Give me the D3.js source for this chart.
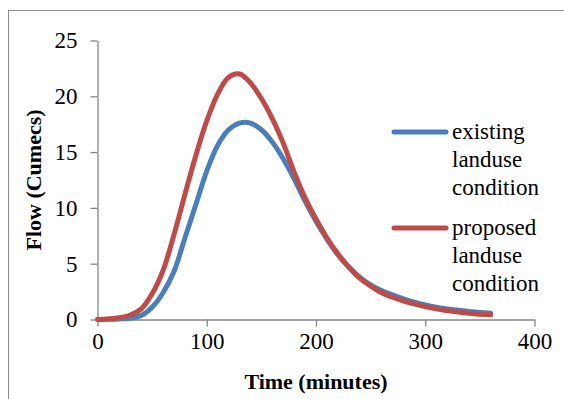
<!DOCTYPE html>
<html lang="en">
<head>
<meta charset="utf-8">
<title>Flow hydrograph</title>
<script src="https://d3js.org/d3.v7.min.js"></script>
<style>
  body { margin: 0; background: #fff; }
  svg text { font-family: 'Liberation Serif', 'Times New Roman', serif; fill: #000; }
</style>
</head>
<body>
<script>
// time in minutes
var time = [0, 10, 20, 30, 40, 50, 60, 70, 80, 90, 100, 110, 120, 130, 140, 150, 160, 170, 180,
            190, 200, 210, 220, 230, 240, 250, 260, 270, 280, 290, 300, 310, 320, 330, 340, 350, 360];

var existing = [0, 0.02, 0.05, 0.12, 0.35, 1.1, 2.4, 4.3, 7.3, 10.3, 13.3, 15.6, 17.0, 17.6, 17.6, 17.0, 15.9, 14.4, 12.6,
                10.6, 8.8, 7.2, 5.8, 4.7, 3.8, 3.1, 2.6, 2.2, 1.85, 1.55, 1.3, 1.1, 0.95, 0.82, 0.72, 0.62, 0.55];

var proposed = [0, 0.05, 0.15, 0.4, 0.95, 2.3, 4.4, 7.6, 11.2, 14.7, 17.8, 20.2, 21.7, 22.0, 21.2, 19.8, 18.0, 15.8, 13.2,
                10.9, 9.0, 7.3, 5.9, 4.7, 3.7, 3.0, 2.4, 2.0, 1.65, 1.4, 1.15, 0.95, 0.8, 0.67, 0.56, 0.48, 0.42];

var xTicks = [0, 100, 200, 300, 400];
var yTicks = [0, 5, 10, 15, 20, 25];

var series = [
  {name: ["existing", "landuse", "condition"], values: existing, color: "#4a7ebb"},
  {name: ["proposed", "landuse", "condition"], values: proposed, color: "#be4b48"}
];

var w = 564, h = 399;
var axisColor = "#868686";
var serif = "'Liberation Serif', 'Times New Roman', serif";

var svg = d3.select("body").append("svg")
    .attr("width", w)
    .attr("height", h);

// chart frame
svg.append("rect")
    .attr("x", 8.5).attr("y", 10.5)
    .attr("width", w).attr("height", h)
    .attr("fill", "none")
    .attr("stroke", "#8c8c8c")
    .attr("stroke-width", 1);

var x = d3.scaleLinear().domain([0, 400]).range([97.5, 534.5]);
var y = d3.scaleLinear().domain([0, 25]).range([319.5, 40.5]);

var xAxis = svg.append("g")
    .attr("transform", "translate(0," + y(0) + ")")
    .call(d3.axisBottom(x).tickValues(xTicks).tickSize(7).tickPadding(6).tickSizeOuter(0));

var yAxis = svg.append("g")
    .attr("transform", "translate(" + x(0) + ",0)")
    .call(d3.axisLeft(y).tickValues(yTicks).tickSize(7).tickPadding(13).tickSizeOuter(0));

[xAxis, yAxis].forEach(function(g) {
  g.attr("font-family", null).attr("font-size", null);
  g.selectAll("path, line").attr("stroke", axisColor).attr("stroke-width", 1.3);
  g.selectAll("text")
    .style("font-family", serif)
    .style("font-size", "23px")
    .attr("fill", "#000");
});
xAxis.selectAll("text").attr("dy", "0.71em");

var line = d3.line()
    .x(function(d, i) { return x(time[i]); })
    .y(function(d) { return y(d); })
    .curve(d3.curveCatmullRom.alpha(0.5));

svg.selectAll(".series")
    .data(series)
    .enter().append("path")
    .attr("class", "series")
    .attr("d", function(d) { return line(d.values); })
    .attr("fill", "none")
    .attr("stroke", function(d) { return d.color; })
    .attr("stroke-width", 5)
    .attr("stroke-linecap", "round")
    .attr("stroke-linejoin", "round");

// axis titles
svg.append("text")
    .attr("x", (x(0) + x(400)) / 2)
    .attr("y", 389)
    .attr("text-anchor", "middle")
    .style("font-family", serif)
    .style("font-size", "22px")
    .style("font-weight", "bold")
    .text("Time (minutes)");

svg.append("text")
    .attr("transform", "translate(41," + (y(0) + y(25)) / 2 + ") rotate(-90)")
    .attr("text-anchor", "middle")
    .style("font-family", serif)
    .style("font-size", "22px")
    .style("font-weight", "bold")
    .text("Flow (Cumecs)");

// legend
var legend = svg.selectAll(".legend")
    .data(series)
    .enter().append("g")
    .attr("class", "legend")
    .attr("transform", function(d, i) { return "translate(0," + (132 + i * 96) + ")"; });

legend.append("line")
    .attr("x1", 394).attr("x2", 446)
    .attr("y1", 0).attr("y2", 0)
    .attr("stroke", function(d) { return d.color; })
    .attr("stroke-width", 5)
    .attr("stroke-linecap", "round");

legend.append("text")
    .style("font-family", serif)
    .style("font-size", "23px")
    .selectAll("tspan")
    .data(function(d) { return d.name; })
    .enter().append("tspan")
    .attr("x", 452)
    .attr("y", function(d, i) { return 7 + i * 28; })
    .text(function(d) { return d; });
</script>
</body>
</html>
